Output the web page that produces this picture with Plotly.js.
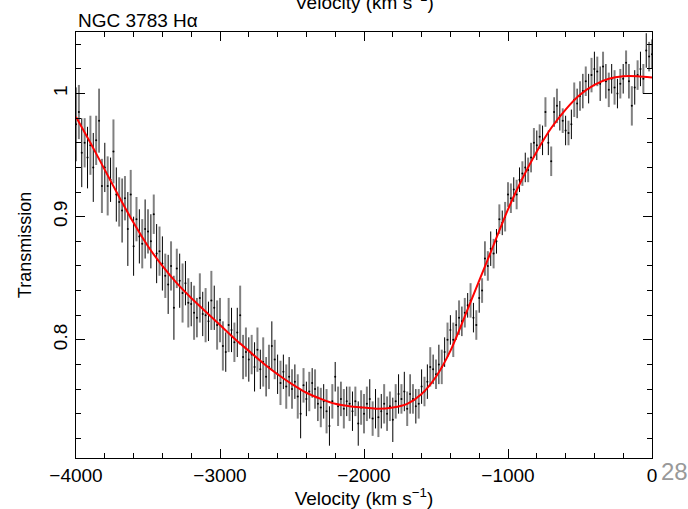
<!DOCTYPE html>
<html>
<head>
<meta charset="utf-8">
<script src="https://cdn.plot.ly/plotly-3.0.1.min.js"></script>
<style>html,body{margin:0;padding:0;background:#fff;}#chart{width:688px;height:509px;}</style>
</head>
<body>
<div id="chart"></div>
<script>
// Observed spectrum: velocity (km/s), transmission, 1-sigma error
const velocity = [
-4000,-3980,-3960,-3940,-3920, -3900,-3880,-3860,-3840,-3820,
-3800,-3780,-3760,-3740,-3720, -3700,-3680,-3660,-3640,-3620,
-3600,-3580,-3560,-3540,-3520, -3500,-3480,-3460,-3440,-3420,
-3400,-3380,-3360,-3340,-3320, -3300,-3280,-3260,-3240,-3220,
-3200,-3180,-3160,-3140,-3120, -3100,-3080,-3060,-3040,-3020,
-3000,-2980,-2960,-2940,-2920, -2900,-2880,-2860,-2840,-2820,
-2800,-2780,-2760,-2740,-2720, -2700,-2680,-2660,-2640,-2620,
-2600,-2580,-2560,-2540,-2520, -2500,-2480,-2460,-2440,-2420,
-2400,-2380,-2360,-2340,-2320, -2300,-2280,-2260,-2240,-2220,
-2200,-2180,-2160,-2140,-2120, -2100,-2080,-2060,-2040,-2020,
-2000,-1980,-1960,-1940,-1920, -1900,-1880,-1860,-1840,-1820,
-1800,-1780,-1760,-1740,-1720, -1700,-1680,-1660,-1640,-1620,
-1600,-1580,-1560,-1540,-1520, -1500,-1480,-1460,-1440,-1420,
-1400,-1380,-1360,-1340,-1320, -1300,-1280,-1260,-1240,-1220,
-1200,-1180,-1160,-1140,-1120, -1100,-1080,-1060,-1040,-1020,
-1000,-980,-960,-940,-920, -900,-880,-860,-840,-820,
-800,-780,-760,-740,-720, -700,-680,-660,-640,-620,
-600,-580,-560,-540,-520, -500,-480,-460,-440,-420,
-400,-380,-360,-340,-320, -300,-280,-260,-240,-220,
-200,-180,-160,-140,-120, -100,-80,-60,-40,-20,
0
];
const transmission = [
0.975,0.985,0.952,0.960,0.948, 0.958,0.940,0.962,0.978,0.925,
0.940,0.925,0.930,0.953,0.918, 0.912,0.905,0.915,0.890,0.918,
0.876,0.898,0.884,0.878,0.890, 0.888,0.880,0.902,0.870,0.872,
0.862,0.852,0.845,0.860,0.826, 0.858,0.848,0.838,0.846,0.830,
0.829,0.822,0.818,0.834,0.821, 0.820,0.815,0.832,0.826,0.812,
0.816,0.795,0.790,0.812,0.808, 0.798,0.806,0.820,0.786,0.790,
0.784,0.788,0.778,0.792,0.776, 0.782,0.770,0.778,0.795,0.784,
0.772,0.765,0.774,0.762,0.770, 0.760,0.766,0.754,0.740,0.763,
0.752,0.758,0.765,0.760,0.748, 0.745,0.750,0.742,0.730,0.750,
0.770,0.746,0.752,0.744,0.750, 0.748,0.742,0.750,0.732,0.745,
0.740,0.748,0.752,0.736,0.744, 0.737,0.742,0.748,0.740,0.746,
0.735,0.750,0.756,0.752,0.758, 0.744,0.756,0.752,0.746,0.748,
0.762,0.758,0.766,0.778,0.776, 0.772,0.780,0.778,0.790,0.800,
0.808,0.800,0.812,0.818,0.815, 0.822,0.828,0.832,0.818,0.812,
0.834,0.840,0.866,0.860,0.874, 0.870,0.880,0.898,0.895,0.900,
0.918,0.915,0.922,0.918,0.930, 0.935,0.940,0.938,0.948,0.960,
0.958,0.965,0.962,0.985,0.960, 0.945,0.985,0.990,0.982,0.978,
0.970,0.968,0.975,0.995,0.992, 0.998,1.002,1.010,1.004,1.015,
1.020,1.018,1.008,1.022,1.010, 1.003,1.012,1.005,1.000,1.008,
1.012,1.025,1.010,0.990,1.005, 1.015,1.020,1.012,1.035,1.030,
1.032
];
const errors = [
0.030,0.022,0.028,0.020,0.025, 0.024,0.028,0.020,0.026,0.022,
0.020,0.024,0.018,0.026,0.022, 0.020,0.026,0.018,0.030,0.020,
0.024,0.018,0.022,0.020,0.024, 0.018,0.022,0.016,0.024,0.020,
0.022,0.018,0.024,0.020,0.026, 0.016,0.022,0.024,0.018,0.020,
0.018,0.022,0.016,0.020,0.018, 0.022,0.016,0.024,0.018,0.020,
0.018,0.020,0.016,0.022,0.018, 0.016,0.020,0.024,0.018,0.020,
0.018,0.016,0.020,0.018,0.016, 0.020,0.016,0.018,0.020,0.016,
0.016,0.018,0.014,0.018,0.016, 0.016,0.014,0.018,0.020,0.014,
0.014,0.016,0.012,0.016,0.014, 0.016,0.014,0.018,0.016,0.014,
0.012,0.016,0.014,0.016,0.012, 0.014,0.016,0.012,0.018,0.014,
0.016,0.014,0.016,0.014,0.016, 0.016,0.014,0.016,0.014,0.012,
0.018,0.014,0.016,0.012,0.016, 0.014,0.016,0.012,0.014,0.012,
0.014,0.012,0.014,0.016,0.012, 0.012,0.016,0.014,0.012,0.014,
0.012,0.014,0.012,0.014,0.012, 0.012,0.010,0.014,0.012,0.012,
0.012,0.010,0.014,0.012,0.014, 0.012,0.010,0.012,0.010,0.012,
0.010,0.012,0.010,0.012,0.010, 0.010,0.012,0.010,0.012,0.012,
0.012,0.010,0.012,0.012,0.010, 0.012,0.012,0.014,0.012,0.010,
0.012,0.010,0.012,0.014,0.012, 0.012,0.014,0.012,0.012,0.014,
0.014,0.012,0.014,0.012,0.014, 0.014,0.012,0.014,0.012,0.012,
0.012,0.010,0.014,0.016,0.014, 0.012,0.014,0.012,0.014,0.012,
0.012
];
// Fitted model (red curve)
const modelVelocity = [-4000,-3900,-3800,-3700,-3600,-3500,-3400,-3300,-3200,-3100,-3000,-2900,-2800,-2700,-2600,-2500,-2400,-2300,-2200,-2100,-2000,-1900,-1800,-1700,-1600,-1500,-1400,-1300,-1200,-1100,-1000,-900,-800,-700,-600,-500,-400,-300,-200,-100,0];
const modelTransmission = [0.981,0.960,0.938,0.916,0.895,0.876,0.860,0.846,0.834,0.823,0.812,0.801,0.791,0.781,0.772,0.764,0.757,0.752,0.748,0.746,0.745,0.744,0.745,0.748,0.756,0.770,0.791,0.819,0.848,0.877,0.906,0.931,0.953,0.972,0.987,0.999,1.007,1.012,1.014,1.014,1.013];

const xTickVals = [-4000,-3000,-2000,-1000,0];
const xTickText = ['\u22124000','\u22123000','\u22122000','\u22121000','0'];
const yTickVals = [0.8,0.9,1];
const yTickText = ['0.8','0.9','1'];

// split alternating samples into grey and black error bars
function pick(arr, parity){ return arr.filter((_, i) => i % 2 === parity); }

const FONT = 'Liberation Sans, Arial, Helvetica, sans-serif';

const traces = [
  {
    x: pick(velocity,1), y: pick(transmission,1), type:'scatter', mode:'markers',
    marker:{size:2, color:'#000'},
    error_y:{type:'data', array: pick(errors,1), visible:true, color:'#808080', thickness:2, width:0},
    hoverinfo:'skip', showlegend:false
  },
  {
    x: pick(velocity,0), y: pick(transmission,0), type:'scatter', mode:'markers',
    marker:{size:2, color:'#000'},
    error_y:{type:'data', array: pick(errors,0), visible:true, color:'#000', thickness:1, width:0},
    hoverinfo:'skip', showlegend:false
  },
  {
    x: modelVelocity, y: modelTransmission, type:'scatter', mode:'lines',
    line:{color:'#ff0000', width:2, shape:'spline', smoothing:0.8},
    hoverinfo:'skip', showlegend:false
  }
];

const PLOT_H = 509 - 32 - 51;

const layout = {
  width:688, height:509,
  margin:{l:76, r:36, t:32, b:51, pad:0},
  paper_bgcolor:'#fff', plot_bgcolor:'#fff',
  font:{family:FONT, size:19, color:'#000'},
  showlegend:false,
  xaxis:{
    range:[-4000,0], tickvals:xTickVals, ticktext:xTickText,
    ticks:'inside', ticklen:9, tickwidth:1, tickcolor:'#000',
    minor:{dtick:200, tick0:0, ticks:'inside', ticklen:5, tickcolor:'#000', showgrid:false},
    showline:true, linecolor:'#000', linewidth:1, mirror:'ticks',
    showgrid:false, zeroline:false, automargin:false,
    tickfont:{family:FONT, size:19},
    title:{text:'Velocity (km s<sup>\u22121</sup>)', font:{family:FONT, size:19}, standoff:2}
  },
  yaxis:{
    range:[0.704,1.05], tickvals:yTickVals, ticktext:yTickText, tickangle:-90,
    ticks:'inside', ticklen:9, tickwidth:1, tickcolor:'#000',
    minor:{dtick:0.02, tick0:0, ticks:'inside', ticklen:5, tickcolor:'#000', showgrid:false},
    showline:true, linecolor:'#000', linewidth:1, mirror:'ticks',
    showgrid:false, zeroline:false, automargin:false,
    tickfont:{family:FONT, size:19},
    title:{text:'Transmission', font:{family:FONT, size:18}, standoff:14}
  },
  annotations:[
    {text:'Velocity (km s<sup>\u22121</sup>)', xref:'paper', yref:'paper', x:0.5, y:1 + 31/PLOT_H,
     xanchor:'center', yanchor:'middle', showarrow:false, font:{family:FONT, size:19}},
    {text:'NGC 3783 H\u03b1', xref:'paper', yref:'paper', x:0, y:1 + 12/PLOT_H,
     xanchor:'left', yanchor:'middle', showarrow:false, font:{family:FONT, size:19}},
    {text:'28', xref:'paper', yref:'paper', x:(659-76)/576, y:-13/PLOT_H,
     xanchor:'left', yanchor:'middle', showarrow:false, font:{family:FONT, size:24, color:'#999999'}}
  ]
};

Plotly.newPlot('chart', traces, layout, {displayModeBar:false, staticPlot:true});
</script>
</body>
</html>
